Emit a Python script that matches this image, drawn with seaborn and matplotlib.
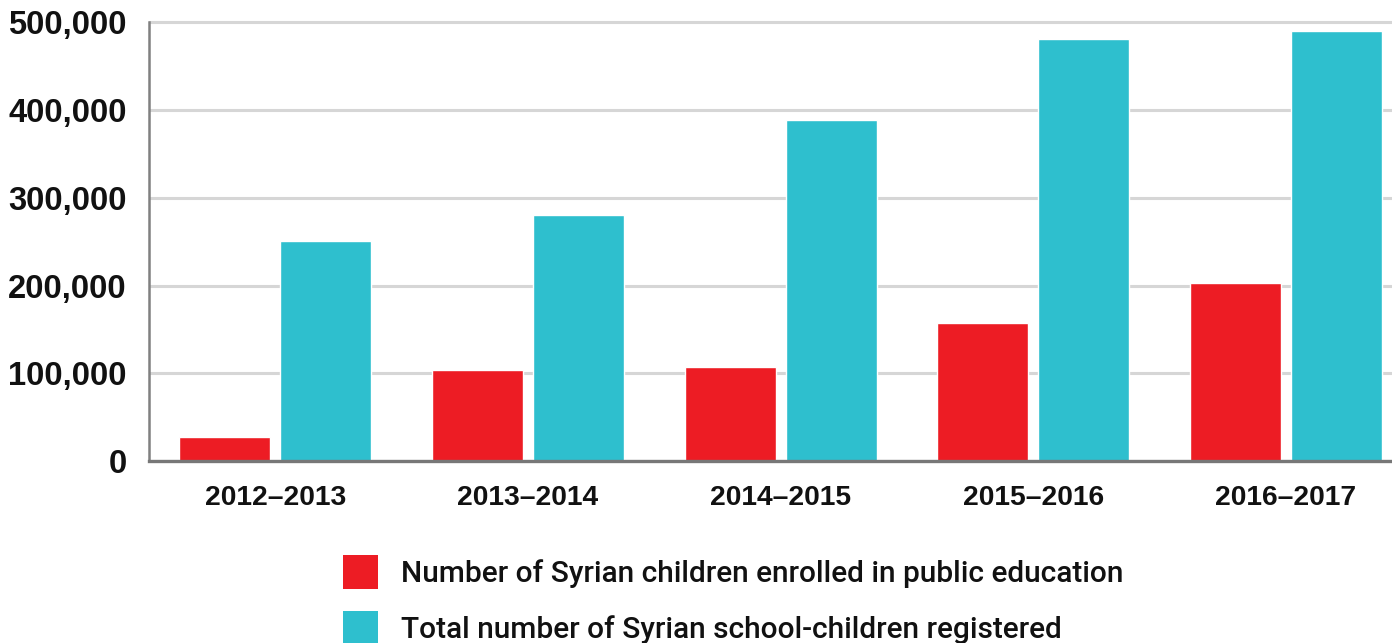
import matplotlib
matplotlib.use("Agg")
import matplotlib.pyplot as plt
from matplotlib.patches import Patch
from matplotlib.ticker import FuncFormatter
import seaborn as sns
import pandas as pd

# School years and the two series (number of children)
years = ["2012–2013", "2013–2014", "2014–2015", "2015–2016", "2016–2017"]
enrolled = [27000, 104000, 107000, 157000, 203000]
registered = [251000, 280000, 389000, 481000, 490000]
series_names = [
    "Number of Syrian children enrolled in public education",
    "Total number of Syrian school-children registered",
]
y_ticks = [0, 100000, 200000, 300000, 400000, 500000]

colors = ["#ED1C24", "#2EBFCE"]

df = pd.DataFrame({
    "year": years * 2,
    "count": enrolled + registered,
    "series": [series_names[0]] * len(years) + [series_names[1]] * len(years),
})

sns.set_theme(style="white")
plt.rcParams["font.family"] = ["Liberation Sans", "DejaVu Sans"]

fig = plt.figure(figsize=(13.92, 6.43), dpi=100)
W, H = 1392, 643
ax = fig.add_axes([149 / W, 1 - 461 / H, (W - 149) / W, (461 - 15) / H])

sns.barplot(
    data=df, x="year", y="count", hue="series", order=years,
    hue_order=series_names, palette=colors, width=0.8, gap=0.1,
    saturation=1, legend=False, ax=ax, zorder=3,
)

px_per_unit = 87.7 / 100000
ax.set_ylim(0, (461 - 15) / px_per_unit)
ax.set_xlim(-0.5, 4.42)

ax.set_yticks(y_ticks)
ax.yaxis.set_major_formatter(FuncFormatter(lambda v, p: f"{int(v):,}"))
ax.grid(axis="y", color="#d6d6d6", linewidth=2.2, zorder=0)
ax.set_axisbelow(True)

for s in ["top", "right"]:
    ax.spines[s].set_visible(False)
ax.spines["left"].set_color("#808080")
ax.spines["left"].set_linewidth(1.8)
ax.spines["left"].set_bounds(0, y_ticks[-1])
ax.spines["bottom"].set_color("#777777")
ax.spines["bottom"].set_linewidth(2.4)
ax.spines["bottom"].set_zorder(4)

ax.tick_params(axis="y", length=0, pad=16, labelsize=23.6, labelcolor="#111111")
ax.tick_params(axis="x", length=0, pad=17, labelsize=20.3, labelcolor="#111111")
for lbl in ax.get_yticklabels():
    lbl.set_fontweight("bold")
for lbl in ax.get_xticklabels():
    lbl.set_fontweight("bold")

ax.set_xlabel("")
ax.set_ylabel("")

handles = [Patch(facecolor=c, edgecolor="none") for c in colors]
fig.legend(
    handles, series_names, loc="upper left",
    bbox_to_anchor=(343 / W, 1 - 555 / H), bbox_transform=fig.transFigure,
    frameon=False, handlelength=1.17, handleheight=1.37,
    handletextpad=0.77, labelspacing=0.75, borderpad=0, borderaxespad=0,
    prop={"size": 21.5, "weight": "medium",
          "family": ["Roboto", "Liberation Sans", "DejaVu Sans"]},
    labelcolor="#111111",
)

fig.savefig("out.png", dpi=100)
